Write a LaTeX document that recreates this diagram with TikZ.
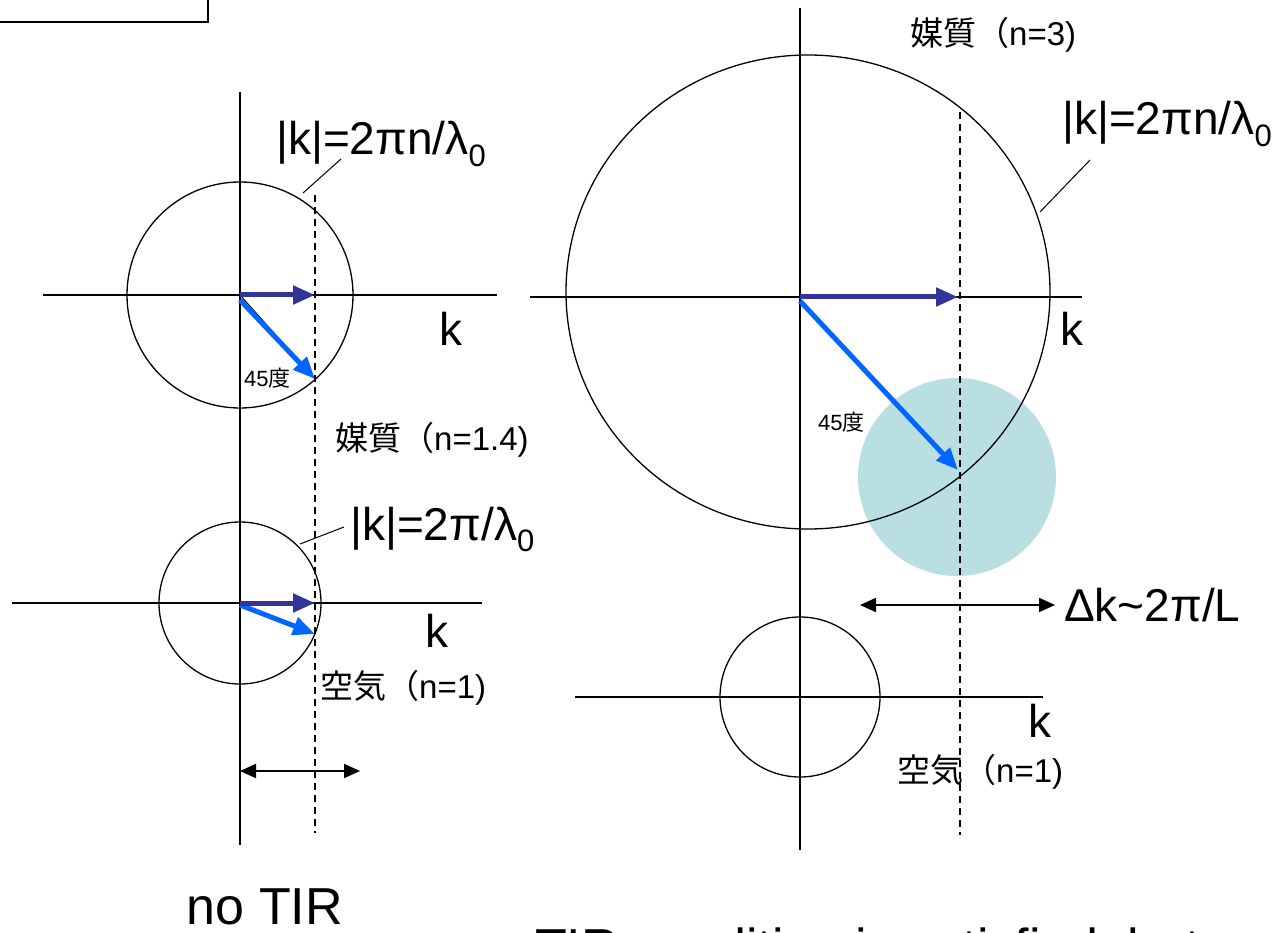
\documentclass[tikz,border=0pt]{standalone}
\usepackage{fontspec}
\setmainfont{Liberation Sans}
\newfontfamily\jp{Noto Sans CJK JP}
\usetikzlibrary{arrows.meta}
\definecolor{kdark}{HTML}{333399}
\definecolor{kblue}{HTML}{0066FF}
\definecolor{spot}{HTML}{BADFE3}
\newcommand{\subzero}{\raisebox{-0.25em}{\fontsize{31}{31}\selectfont 0}}
\begin{document}
\begin{tikzpicture}[x=1pt,y=-1pt,
  axis/.style={line width=1.3pt},
  ring/.style={line width=1.3pt},
  guide/.style={line width=1.3pt, dash pattern=on 7pt off 5pt},
  lead/.style={line width=1pt},
  kx/.style={line width=5pt, draw=kdark, -{Triangle[length=22pt,width=18pt,fill=kdark]}},
  kv/.style={line width=5pt, draw=kblue, -{Triangle[length=22pt,width=18pt,fill=kblue]}},
  span/.style={line width=2pt, {Triangle[length=16pt,width=14pt]}-{Triangle[length=16pt,width=14pt]}},
  big/.style={font=\fontsize{46}{46}\selectfont, inner sep=0pt},
  title/.style={font=\fontsize{52}{52}\selectfont, inner sep=0pt},
  jlab/.style={font=\fontsize{33}{33}\selectfont, inner sep=0pt},
  ang/.style={font=\fontsize{22}{22}\selectfont, inner sep=0pt}
]
\useasboundingbox (0,0) rectangle (1288,933);

% top-left box
\draw[line width=2pt] (-10,-60) rectangle (208,22);

% ===== left diagram =====
\coordinate (LU) at (240,295);
\coordinate (LL) at (240,603);
\draw[axis] (240,92) -- (240,845);
\draw[axis] (43,295) -- (497,295);
\draw[axis] (12,603) -- (482,603);
\draw[ring] (LU) circle[radius=113];
\draw[ring] (LL) circle[radius=81];
\draw[guide] (315,195) -- (315,833);
\coordinate (LUx) at (315,295);
\coordinate (LUv) at (315,379);
\coordinate (LUs) at (240,300);
\coordinate (LLx) at (315,603);
\coordinate (LLv) at (315,634);
\coordinate (LLs) at (240,605);
\draw[line width=1pt] (LU) -- (LUv);
\draw[kv] (LUs) -- (LUv);
\draw[kx] (LU) -- (LUx);
\draw[kv] (LLs) -- (LLv);
\draw[kx] (LL) -- (LLx);

\node[big, anchor=base west] (lkU) at (276,155) {|k|=2πn/λ\subzero};
\coordinate (lkUa) at (303,193);
\coordinate (lkUb) at (341,159);
\draw[lead] (lkUa) -- (lkUb);
\node[big, anchor=base west] (lkL) at (350,540) {|k|=2π/λ\subzero};
\coordinate (lkLa) at (300,544);
\coordinate (lkLb) at (344,527);
\draw[lead] (lkLa) -- (lkLb);
\node[big, anchor=base] (kU) at (451,345) {k};
\node[big, anchor=base] (kL) at (437,647) {k};
\node[ang, anchor=west] (angL) at (244,378) {45{\jp 度}};
\node[jlab, anchor=west] (medL) at (335,440) {{\jp 媒質（}n=1.4)};
\node[jlab, anchor=west] (airL) at (320,688) {{\jp 空気（}n=1)};
\coordinate (dL1) at (240,771);
\coordinate (dL2) at (360,771);
\draw[span] (dL1) -- (dL2);
\node[title, anchor=base] (noTIR) at (265,924) {no TIR};

% ===== right diagram =====
\coordinate (RU) at (800,297);
\coordinate (RUc) at (808,292);
\coordinate (RL) at (800,697);
\fill[spot] (957,477) circle[radius=99];
\draw[axis] (800,8) -- (800,850);
\draw[axis] (530,297) -- (1082,297);
\draw[axis] (575,697) -- (1043,697);
\draw[ring] (RUc) ellipse[x radius=242, y radius=237];
\draw[ring] (RL) circle[radius=80];
\draw[guide] (960,112) -- (960,835);
\coordinate (RUx) at (958,297);
\coordinate (RUv) at (958,470);
\coordinate (RUs) at (800,301);
\draw[kv] (RUs) -- (RUv);
\draw[kx] (RU) -- (RUx);

\node[big, anchor=base west] (rkU) at (1062,135) {|k|=2πn/λ\subzero};
\coordinate (rkUa) at (1040,212);
\coordinate (rkUb) at (1090,160);
\draw[lead] (rkUa) -- (rkUb);
\node[big, anchor=base] (kR1) at (1072,345) {k};
\node[big, anchor=base] (kR2) at (1040,737) {k};
\node[ang, anchor=west] (angR) at (818,422) {45{\jp 度}};
\node[jlab, anchor=west] (medR) at (910,35) {{\jp 媒質（}n=3)};
\node[jlab, anchor=west] (airR) at (897,772) {{\jp 空気（}n=1)};
\coordinate (dR1) at (860,605);
\coordinate (dR2) at (1055,605);
\draw[span] (dR1) -- (dR2);
\node[big, anchor=west] (dk) at (1064,605) {Δk\textasciitilde2π/L};
\node[title, anchor=base west] (tir) at (535,965) {TIR condition is satisfied, but};
\end{tikzpicture}
\end{document}
